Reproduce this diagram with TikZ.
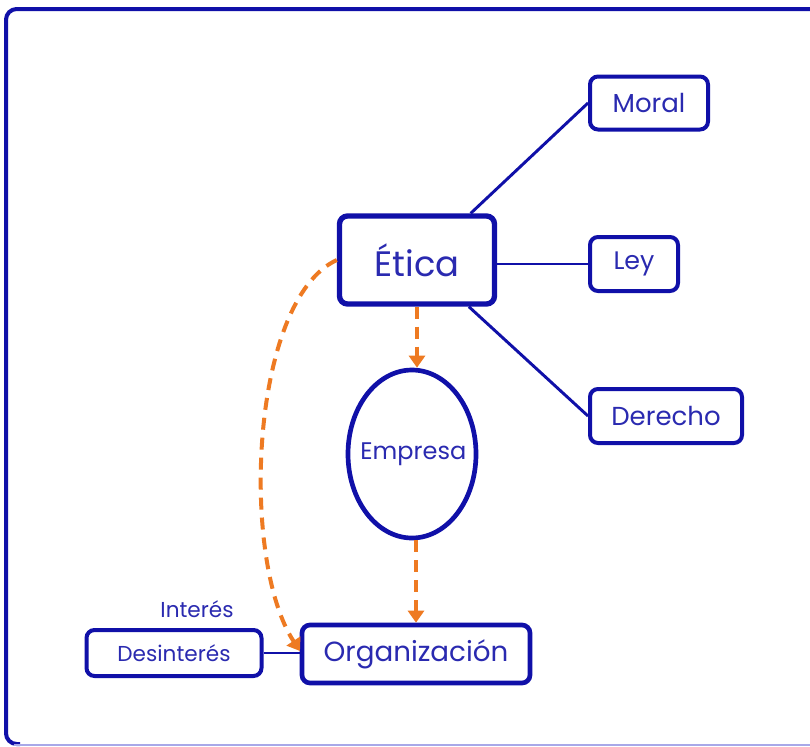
\documentclass[tikz,border=0pt]{standalone}
\usepackage{fontspec}
\setmainfont{Poppins}
\usetikzlibrary{arrows.meta,shapes.geometric}
\definecolor{dblue}{HTML}{1010A8}
\definecolor{tblue}{HTML}{2A2AB0}
\definecolor{orng}{HTML}{EE7A22}
\definecolor{lav}{HTML}{A8A8E8}
\tikzset{
  box/.style={draw=dblue, line width=3.5pt, rounded corners=6pt, fill=white, text=tblue, inner sep=0pt},
  link/.style={draw=dblue, line width=2.2pt},
  flow/.style={draw=orng, line width=3pt, dash pattern=on 9pt off 6pt, -{Triangle[width=12pt,length=9pt]}},
}
\begin{document}
\begin{tikzpicture}[x=0.75pt,y=-0.75pt]
\useasboundingbox (0,0) rectangle (810,746);
\fill[white] (0,0) rectangle (810,746);
% frame
\draw[dblue, line width=3pt, rounded corners=8pt] (812,9) -- (6,9) -- (6,744) -- (20,744);
\draw[lav, line width=1.5pt] (14,744.5) -- (812,744.5);
% nodes
\node[box, line width=4pt, minimum width=116.25pt, minimum height=66pt, font=\fontsize{26.5}{30}\selectfont] (etica) at (417,260) {Ética};
\node[box, line width=3pt, minimum width=88.5pt, minimum height=39.75pt, font=\fontsize{19.5}{22}\selectfont] (moral) at (649,103) {Moral};
\node[box, line width=3pt, minimum width=66pt, minimum height=40.5pt, font=\fontsize{19}{22}\selectfont] (ley) at (634,264) {Ley};
\node[box, line width=3pt, minimum width=114pt, minimum height=40.5pt, font=\fontsize{19.5}{22}\selectfont] (derecho) at (666,416) {Derecho};
\node[draw=dblue, line width=3.5pt, ellipse, fill=white, inner sep=0pt, minimum width=96pt, minimum height=126pt,
      label={[text=tblue, font=\fontsize{18}{21}\selectfont, xshift=1pt]center:Empresa}] (empresa) at (412,454) {};
\node[box, minimum width=171pt, minimum height=43.5pt, font=\fontsize{20.8}{24}\selectfont] (org) at (416,654) {Organización};
\node[box, line width=3pt, minimum width=131.25pt, minimum height=34.5pt, font=\fontsize{16.2}{19}\selectfont] (desint) at (174,653) {Desinterés};
\node[text=tblue, inner sep=0pt, font=\fontsize{16.2}{19}\selectfont] (interes) at (197,609) {Interés};
% links
\draw[link] (etica.41) -- (moral.west);
\draw[link] (ley.west -| etica.east) -- (ley.west);
\draw[link] (etica.-42) -- (derecho.west);
\draw[link] (desint.east) -- (org.west |- desint.east);
% flows
\draw[flow] (etica.south) -- (etica.south |- empresa.north);
\draw[flow] (empresa.south -| org.north) -- (org.north);
\coordinate (cend) at (300,651);
\draw[flow] (etica.west) .. controls (250,300) and (240,560) .. (cend);
\end{tikzpicture}
\end{document}
